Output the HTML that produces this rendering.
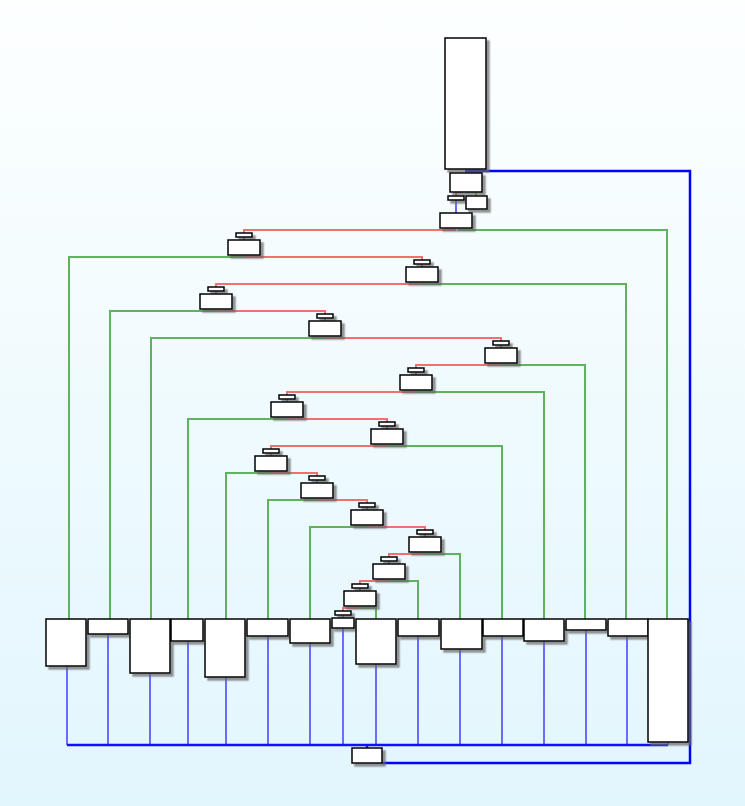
<!DOCTYPE html>
<html><head><style>
html,body{margin:0;padding:0;}
body{width:745px;height:806px;background:linear-gradient(#fdffff,#e2f6fd);overflow:hidden;}
svg{display:block;}
</style></head><body>
<svg width="745" height="806" xmlns="http://www.w3.org/2000/svg">
<defs><filter id="s" x="-20%" y="-20%" width="150%" height="150%"><feDropShadow dx="3" dy="3" stdDeviation="0.8" flood-color="#666" flood-opacity="0.7"/></filter></defs>
<g fill="none" stroke-width="2">
<g stroke="#6b6bff">
<path d="M67 666V745M108 634V745M150 673V745M188 641V745M226 677V745M268 636V745M310 643V745M343 628V745M376 664V745M418 636V745M460 649V745M502 636V745M544 641V745M586 630V745M627 636V745M668 742V745"/>
<path d="M456 192V213M244 237V240M422 264V267M216 291V294M325 318V321M501 345V348M416 372V375M287 399V402M387 426V429M271 453V456M317 480V483M367 507V510M425 534V537M389 561V564M360 588V591M343 615V618"/>
</g>
<path stroke="#1010ff" stroke-width="2.5" d="M67 745H668M367 745V748"/>
<path stroke="#0000ff" stroke-width="2.5" d="M382 763H690V171H465"/>
<g stroke="#f07070">
<path d="M456 230H244V233M244 257H422V260M422 284H216V287M216 311H325V314M325 338H501V341M501 365H416V368M416 392H287V395M287 419H387V422M387 446H271V449M271 473H317V476M317 500H367V503M367 527H425V530M425 554H389V557M389 581H360V584M360 608H343V611M462 192H456V196"/>
</g>
<g stroke="#5fb35f">
<path d="M458 230H667V619M244 257H69V619M422 284H626V619M216 311H110V619M325 338H151V619M501 365H585V619M416 392H544V619M287 419H188V619M387 446H502V619M271 473H226V619M317 500H268V619M367 527H310V619M425 554H460V619M389 581H418V619M360 608H376V619M466 192H476V196"/>
</g>
</g>
<g fill="#fff" stroke="#000" stroke-width="1.5" filter="url(#s)">
<rect x="445" y="38" width="41" height="131"/>
<rect x="450" y="173" width="32" height="19"/>
<rect x="448" y="196" width="16" height="4"/>
<rect x="466" y="196" width="21" height="13"/>
<rect x="440" y="213" width="32" height="15"/>
<rect x="236" y="233" width="16" height="4"/><rect x="228" y="240" width="32" height="15"/>
<rect x="414" y="260" width="16" height="4"/><rect x="406" y="267" width="32" height="15"/>
<rect x="208" y="287" width="16" height="4"/><rect x="200" y="294" width="32" height="15"/>
<rect x="317" y="314" width="16" height="4"/><rect x="309" y="321" width="32" height="15"/>
<rect x="493" y="341" width="16" height="4"/><rect x="485" y="348" width="32" height="15"/>
<rect x="408" y="368" width="16" height="4"/><rect x="400" y="375" width="32" height="15"/>
<rect x="279" y="395" width="16" height="4"/><rect x="271" y="402" width="32" height="15"/>
<rect x="379" y="422" width="16" height="4"/><rect x="371" y="429" width="32" height="15"/>
<rect x="263" y="449" width="16" height="4"/><rect x="255" y="456" width="32" height="15"/>
<rect x="309" y="476" width="16" height="4"/><rect x="301" y="483" width="32" height="15"/>
<rect x="359" y="503" width="16" height="4"/><rect x="351" y="510" width="32" height="15"/>
<rect x="417" y="530" width="16" height="4"/><rect x="409" y="537" width="32" height="15"/>
<rect x="381" y="557" width="16" height="4"/><rect x="373" y="564" width="32" height="15"/>
<rect x="352" y="584" width="16" height="4"/><rect x="344" y="591" width="32" height="15"/>
<rect x="335" y="611" width="16" height="4"/><rect x="332" y="618" width="22" height="10"/>
<rect x="46" y="619" width="40" height="47"/>
<rect x="88" y="619" width="40" height="15"/>
<rect x="130" y="619" width="40" height="54"/>
<rect x="171" y="619" width="32" height="22"/>
<rect x="205" y="619" width="40" height="58"/>
<rect x="247" y="619" width="41" height="17"/>
<rect x="290" y="619" width="40" height="24"/>
<rect x="356" y="619" width="40" height="45"/>
<rect x="398" y="619" width="41" height="17"/>
<rect x="441" y="619" width="41" height="30"/>
<rect x="483" y="619" width="40" height="17"/>
<rect x="524" y="619" width="40" height="22"/>
<rect x="566" y="619" width="40" height="11"/>
<rect x="608" y="619" width="40" height="17"/>
<rect x="648" y="619" width="40" height="123"/>
<rect x="352" y="748" width="30" height="15"/>
</g>
</svg>
</body></html>
